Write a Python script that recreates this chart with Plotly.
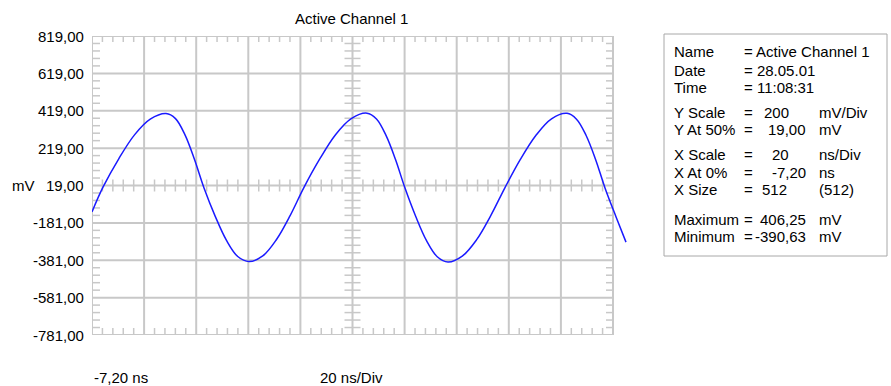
import plotly.graph_objects as go

# ---------------- data ----------------
time_ns = [-7.20, -2.98, 3.07, 9.12, 15.16, 21.21, 24.85, 28.50, 32.15, 35.80,
           40.11, 44.43, 48.75, 53.07, 58.35, 63.63, 68.90, 74.18, 80.23, 86.28,
           92.32, 98.37, 102.01, 105.66, 109.31, 112.95, 117.08, 121.21, 125.33, 129.46,
           134.93, 140.40, 145.87, 151.34, 157.29, 163.24, 169.19, 175.14, 178.79, 182.44,
           186.08, 189.73, 194.05, 197.79]
voltage_mv = [-122, 10, 162, 290, 374, 404, 377, 290, 158, 6,
              -146, -275, -361, -388, -358, -270, -141, 9, 161, 291,
              377, 406.25, 375, 287, 158, 5, -147, -276, -362, -390.63,
              -359, -272, -142, 8, 160, 288, 376, 405, 374, 288,
              160, 6, -152, -284]

y_tick_vals = [-781, -581, -381, -181, 19, 219, 419, 619, 819]
y_tick_text = ["-781,00", "-581,00", "-381,00", "-181,00", "19,00",
               "219,00", "419,00", "619,00", "819,00"]

info_labels = ["Name", "Date", "Time", "Y Scale", "Y At 50%", "X Scale",
               "X At 0%", "X Size", "Maximum", "Minimum"]
info_eq = ["= Active Channel 1", "= 28.05.01", "= 11:08:31", "=", "=", "=",
           "=", "=", "=", "="]
info_values = ["", "", "", "200", "19,00", "20", "-7,20", "512", "406,25", "-390,63"]
info_units = ["", "", "", "mV/Div", "mV", "ns/Div", "ns", "(512)", "mV", "mV"]

# ---------------- geometry ----------------
W, H = 891, 386
L, T = 92, 36
PW_GRID = 521          # width of the 10 divisions in px
PH = 299               # height of the 8 divisions in px
PW = 538               # plot area width (trace runs a bit past the grid)
R = W - L - PW
B = H - T - PH

X0, XDIV = -7.2, 20.0
Y0, YDIV = -781.0, 200.0
x_per_px = 10 * XDIV / PW_GRID
y_per_px = 8 * YDIV / PH
XMAX = X0 + PW * x_per_px
X1 = X0 + 10 * XDIV
Y1 = Y0 + 8 * YDIV
XC = X0 + 5 * XDIV
YC = Y0 + 4 * YDIV

def px_x(px):
    return (px - L) / PW

def px_y(py):
    return (T + PH - py) / PH

GRID = "#c8c8c8"
FONT = dict(family="Liberation Sans, Arial, sans-serif", size=15, color="black")

fig = go.Figure()

# ---------------- minor ticks ----------------
tx, ty = [], []
xs_minor = [X0 + i * XDIV / 5 for i in range(51) if i % 5 != 0]
ys_minor = [Y0 + j * YDIV / 5 for j in range(41) if j % 5 != 0]
for x in xs_minor:
    tx += [x, x, None]; ty += [Y1, Y1 - 6 * y_per_px, None]
    tx += [x, x, None]; ty += [Y0, Y0 + 7 * y_per_px, None]
    tx += [x, x, None]; ty += [YC - 6 * y_per_px, YC + 6 * y_per_px, None]
for y in ys_minor:
    tx += [X0, X0 + 8 * x_per_px, None]; ty += [y, y, None]
    tx += [X1, X1 - 7 * x_per_px, None]; ty += [y, y, None]
    tx += [XC - 8 * x_per_px, XC + 8 * x_per_px, None]; ty += [y, y, None]
fig.add_trace(go.Scatter(x=tx, y=ty, mode="lines", line=dict(color=GRID, width=1.5),
                         hoverinfo="skip", showlegend=False))

# ---------------- signal ----------------
fig.add_trace(go.Scatter(x=time_ns, y=voltage_mv, mode="lines",
                         line=dict(color="#1a1aff", width=1.5, shape="spline"),
                         showlegend=False))

# ---------------- grid ----------------
shapes = []
for k in range(11):
    x = X0 + k * XDIV
    shapes.append(dict(type="line", xref="x", yref="y", x0=x, x1=x, y0=Y0, y1=Y1,
                       line=dict(color=GRID, width=2), layer="below"))
for k in range(9):
    y = Y0 + k * YDIV
    shapes.append(dict(type="line", xref="x", yref="y", x0=X0, x1=X1, y0=y, y1=y,
                       line=dict(color=GRID, width=2), layer="below"))
# info box
shapes.append(dict(type="rect", xref="paper", yref="paper",
                   x0=px_x(664), x1=px_x(887), y0=px_y(34), y1=px_y(256),
                   line=dict(color="#a8a8a8", width=1), fillcolor="white", layer="above"))

ann = []
for v, t in zip(y_tick_vals, y_tick_text):
    ann.append(dict(xref="paper", yref="y", x=px_x(86), y=v, text=t, showarrow=False,
                    xanchor="right", yanchor="middle", font=FONT))
ann.append(dict(xref="paper", yref="paper", x=px_x(351), y=px_y(18), text="Active Channel 1",
                showarrow=False, xanchor="center", yanchor="middle", font=FONT))
ann.append(dict(xref="paper", yref="paper", x=px_x(10), y=px_y(185.5), text="mV",
                showarrow=False, xanchor="left", yanchor="middle", font=FONT))
ann.append(dict(xref="paper", yref="paper", x=px_x(92), y=px_y(377), text="-7,20 ns",
                showarrow=False, xanchor="left", yanchor="middle", font=FONT))
ann.append(dict(xref="paper", yref="paper", x=px_x(318), y=px_y(377), text="20 ns/Div",
                showarrow=False, xanchor="left", yanchor="middle", font=FONT))

rows_y = [52, 70, 87.5, 112, 129.5, 154.5, 172, 189.5, 219, 236.5]
val_pos = {"200": (762, "left"), "19,00": (808, "right"), "20": (770, "left"),
           "-7,20": (808, "right"), "512": (760, "left"), "406,25": (808, "right"),
           "-390,63": (808, "right")}
for lab, eq, val, unit, ry in zip(info_labels, info_eq, info_values, info_units, rows_y):
    ann.append(dict(xref="paper", yref="paper", x=px_x(672), y=px_y(ry), text=lab,
                    showarrow=False, xanchor="left", yanchor="middle", font=FONT))
    ann.append(dict(xref="paper", yref="paper", x=px_x(742), y=px_y(ry), text=eq,
                    showarrow=False, xanchor="left", yanchor="middle", font=FONT))
    if val:
        vx, anc = val_pos[val]
        ann.append(dict(xref="paper", yref="paper", x=px_x(vx), y=px_y(ry), text=val,
                        showarrow=False, xanchor=anc, yanchor="middle", font=FONT))
    if unit:
        ann.append(dict(xref="paper", yref="paper", x=px_x(817), y=px_y(ry), text=unit,
                        showarrow=False, xanchor="left", yanchor="middle", font=FONT))

fig.update_layout(
    width=W, height=H,
    margin=dict(l=L, r=R, t=T, b=B, pad=0),
    paper_bgcolor="white", plot_bgcolor="white",
    xaxis=dict(range=[X0, XMAX], visible=False, fixedrange=True),
    yaxis=dict(range=[Y0, Y1], visible=False, fixedrange=True),
    shapes=shapes, annotations=ann, showlegend=False,
)

fig.write_html("out.html", config={"displayModeBar": False})
